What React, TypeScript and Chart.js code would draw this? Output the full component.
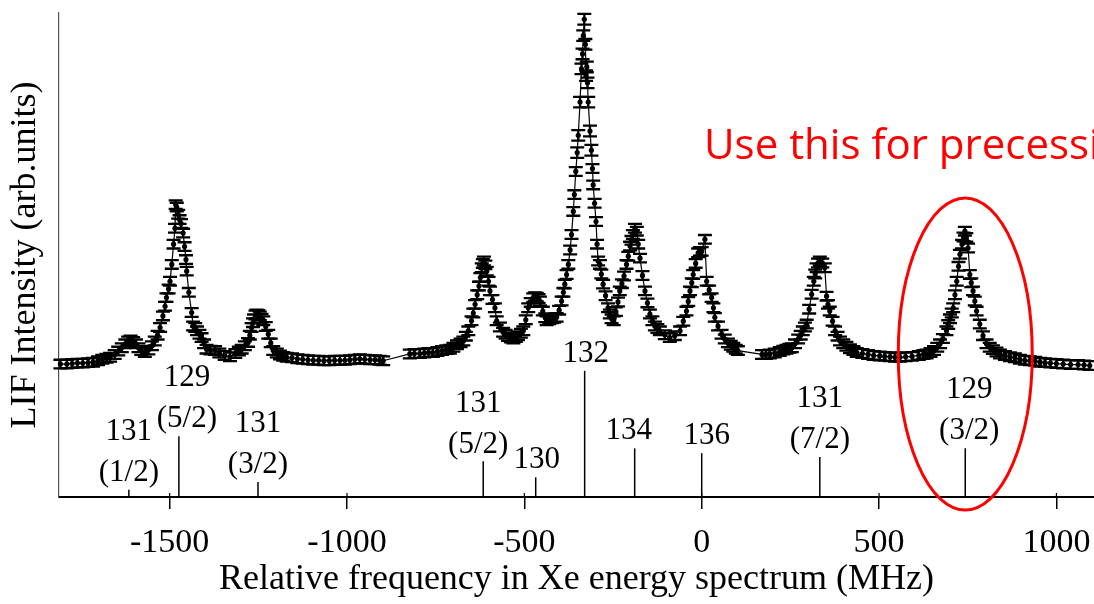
import React, { useEffect, useRef } from "react";
import { Chart, registerables } from "chart.js";

Chart.register(...registerables);

// Measured spectrum: relative frequency (MHz) and LIF intensity (arb. units)
const FREQ: number[] = [
  -1808, -1790, -1775, -1760, -1745, -1730, -1716, -1702, -1690, -1678, -1668, -1655, -1645, -1635, -1625, -1617, -1610, -1603, -1595, -1588,
  -1580, -1570, -1560, -1550, -1542, -1534, -1527, -1519, -1513, -1509, -1503, -1499, -1494, -1489, -1485, -1483, -1480, -1476, -1472, -1468,
  -1462, -1458, -1454, -1452, -1446, -1438, -1434, -1428, -1423, -1416, -1410, -1403, -1396, -1385, -1372, -1360, -1345, -1330, -1315, -1305,
  -1297, -1288, -1279, -1274, -1269, -1265, -1262, -1258, -1255, -1250, -1246, -1241, -1236, -1229, -1222, -1215, -1208, -1198, -1189, -1180,
  -1170, -1155, -1140, -1125, -1110, -1095, -1080, -1065, -1050, -1035, -1020, -1006, -992, -978, -964, -950, -935, -921, -908, -898,
  -823, -810, -795, -782, -770, -758, -745, -732, -720, -710, -700, -690, -680, -672, -665, -658, -649, -644, -639, -633,
  -628, -624, -620, -617, -614, -610, -606, -601, -597, -590, -583, -578, -569, -560, -553, -546, -538, -531, -524, -518,
  -510, -503, -496, -489, -482, -475, -470, -465, -460, -456, -448, -441, -437, -430, -422, -416, -409, -402, -395, -390,
  -386, -381, -376, -371, -367, -362, -359, -355, -351, -348, -343, -339, -336, -334, -331, -328, -326, -324, -322, -320,
  -315, -311, -308, -306, -302, -298, -295, -292, -287, -283, -278, -271, -264, -259, -254, -248, -242, -236, -231, -225,
  -219, -212, -207, -202, -198, -194, -188, -183, -179, -174, -167, -160, -153, -146, -139, -132, -125, -118, -104, -90,
  -76, -61, -52, -43, -38, -33, -28, -24, -17, -10, -5, 0, 9, 14, 21, 28, 33, 37, 46, 56,
  65, 74, 82, 89, 96, 102,
  170, 181, 192, 206, 220, 230, 239, 247, 254, 263, 272, 279, 285, 291, 296, 303, 310, 316, 320, 324,
  328, 333, 340, 347, 352, 356, 361, 369, 376, 383, 390, 399, 408, 418, 428, 437, 453, 469, 485, 502,
  516, 531, 545, 559, 575, 593, 612, 625, 634, 645, 655, 664, 672, 680, 690, 695, 700, 705, 709, 714,
  719, 724, 728, 734, 738, 742, 746, 751, 756, 760, 765, 770, 775, 784, 793, 803, 812, 821, 831, 841,
  855, 869, 883, 897, 911, 925, 940, 954, 968, 983, 1000, 1019, 1040, 1061, 1078, 1094,
];

const INTENSITY: number[] = [
  27.6, 27.6, 27.7, 27.8, 27.8, 27.9, 28.0, 28.3, 28.6, 28.8, 29.0, 29.6, 30.3, 31.0, 31.8, 32.4, 32.6, 32.3, 31.8, 31.0,
  30.4, 30.0, 30.5, 31.4, 32.4, 33.6, 35.2, 37.6, 39.6, 41.4, 43.2, 44.8, 48.3, 52.5, 55.8, 60.7, 60.2, 58.7, 57.6, 56.8,
  54.8, 52.0, 49.3, 46.9, 42.5, 38.3, 35.5, 35.2, 34.5, 33.8, 33.1, 31.8, 30.7, 30.5, 30.4, 29.9, 29.4, 29.1, 29.8, 30.3,
  30.7, 31.4, 32.1, 33.6, 35.2, 36.2, 37.0, 37.8, 38.0, 37.9, 37.6, 37.1, 36.6, 35.4, 33.8, 32.0, 30.4, 29.9, 29.5, 29.2,
  29.0, 28.9, 28.7, 28.6, 28.5, 28.4, 28.4, 28.3, 28.3, 28.4, 28.4, 28.4, 28.5, 28.6, 28.7, 28.6, 28.5, 28.5, 28.4, 28.3,
  29.7, 29.8, 29.8, 29.9, 30.0, 30.0, 30.2, 30.4, 30.6, 30.7, 31.1, 31.6, 32.0, 32.4, 33.4, 34.5, 36.6, 38.2, 40.0, 42.0,
  43.8, 45.6, 47.6, 48.5, 49.0, 48.2, 46.9, 44.8, 42.8, 41.0, 39.3, 36.6, 35.3, 34.2, 33.8, 33.3, 33.0, 32.8, 33.1, 33.5,
  34.0, 34.5, 36.8, 39.3, 40.4, 41.4, 41.6, 41.5, 41.2, 40.7, 38.6, 37.2, 36.6, 36.8, 37.0, 37.1, 37.3, 38.8, 40.7, 42.5,
  44.2, 46.2, 48.3, 51.3, 54.5, 59.3, 62.8, 67.6, 71.5, 75.1, 82.0, 88.9, 92.0, 95.8, 99.2, 94.0, 87.5, 89.3, 86.0, 82.0,
  76.0, 72.0, 68.2, 64.8, 61.0, 57.2, 52.5, 49.0, 48.3, 46.3, 44.2, 41.8, 39.3, 38.0, 37.0, 36.6, 38.5, 40.5, 42.8, 44.3,
  45.9, 48.3, 50.0, 52.1, 53.3, 54.5, 55.8, 55.2, 52.5, 49.6, 46.0, 42.8, 40.3, 38.0, 36.6, 35.5, 35.0, 34.5, 33.7, 33.1,
  33.5, 34.5, 36.5, 38.6, 40.6, 42.8, 44.5, 46.2, 48.5, 50.7, 51.0, 51.0, 53.5, 44.8, 43.0, 41.4, 39.3, 37.3, 35.5, 33.8,
  32.8, 32.0, 31.5, 31.1, 30.7, 30.4,
  29.6, 29.6, 29.7, 29.9, 30.2, 30.5, 30.7, 30.9, 31.0, 31.8, 32.8, 33.6, 34.5, 35.3, 35.9, 39.0, 42.1, 44.8, 46.3, 47.6,
  48.6, 49.0, 48.6, 47.6, 41.7, 40.0, 38.6, 36.5, 34.5, 33.4, 32.4, 31.8, 31.3, 30.8, 30.4, 30.0, 29.8, 29.6, 29.4, 29.3,
  29.2, 29.1, 29.0, 29.0, 29.1, 29.2, 29.4, 29.6, 29.7, 30.0, 30.4, 31.1, 31.8, 32.9, 34.5, 35.8, 37.0, 38.2, 39.3, 42.0,
  44.8, 47.9, 50.4, 52.5, 54.0, 55.2, 53.9, 51.7, 46.2, 44.5, 42.8, 40.7, 38.6, 35.9, 33.5, 31.8, 31.1, 30.6, 30.1, 29.7,
  29.4, 29.1, 28.9, 28.6, 28.4, 28.3, 28.2, 28.0, 27.9, 27.8, 27.7, 27.6, 27.5, 27.5, 27.4, 27.3,
];

// Half-height of each error bar (arb. units): larger on the tall peaks
const ERROR: number[] = INTENSITY.map((v) => (v > 70 ? 1.1 : 0.9));

// Isotope / hyperfine stick spectrum
const STICK_FREQ: number[] = [-1615, -1474, -1251, -616, -468, -330, -189, 0, 333, 743];
const STICK_HEIGHT: number[] = [1.5, 12.6, 3.1, 7.4, 4.1, 26.2, 10.1, 9.1, 8.3, 10.1];
const STICK_LABELS: string[][] = [
  ["131", "(1/2)"],
  ["129", "(5/2)"],
  ["131", "(3/2)"],
  ["131", "(5/2)"],
  ["130"],
  ["132"],
  ["134"],
  ["136"],
  ["131", "(7/2)"],
  ["129", "(3/2)"],
];
const LABEL_DX: number[] = [0, 8, 0, -5, 1, 1, -6, 5, 0, 4];

const X_TICKS: number[] = [-1500, -1000, -500, 0, 500, 1000];
const X_MIN = -1812;
const X_MAX = 1106;

const X_TITLE = "Relative frequency in Xe energy spectrum (MHz)";
const Y_TITLE = "LIF Intensity (arb.units)";
const NOTE = "Use this for precession";
const HIGHLIGHT_FREQ = 743;

const SERIF = "'Liberation Serif', 'Times New Roman', serif";

const overlayPlugin = {
  id: "overlay",
  afterDatasetsDraw(chart: any) {
    const ctx = chart.ctx;
    const xs = chart.scales.x;
    const ys = chart.scales.y;
    const area = chart.chartArea;
    ctx.save();
    // error bars
    ctx.strokeStyle = "#000";
    ctx.lineWidth = 2.3;
    for (let i = 0; i < FREQ.length; i++) {
      const px = xs.getPixelForValue(FREQ[i]);
      const y1 = ys.getPixelForValue(INTENSITY[i] - ERROR[i]);
      const y2 = ys.getPixelForValue(INTENSITY[i] + ERROR[i]);
      ctx.beginPath();
      ctx.moveTo(px, y1);
      ctx.lineTo(px, y2);
      ctx.moveTo(px - 7, y1);
      ctx.lineTo(px + 7, y1);
      ctx.moveTo(px - 7, y2);
      ctx.lineTo(px + 7, y2);
      ctx.stroke();
    }
    // sticks
    ctx.lineWidth = 1.5;
    const base = ys.getPixelForValue(0);
    ctx.font = `31px ${SERIF}`;
    ctx.fillStyle = "#000";
    ctx.textAlign = "center";
    ctx.textBaseline = "middle";
    for (let i = 0; i < STICK_FREQ.length; i++) {
      const px = xs.getPixelForValue(STICK_FREQ[i]);
      const top = ys.getPixelForValue(STICK_HEIGHT[i]);
      ctx.beginPath();
      ctx.moveTo(px, base);
      ctx.lineTo(px, top);
      ctx.stroke();
      const lines = STICK_LABELS[i];
      for (let j = 0; j < lines.length; j++) {
        const ly = top - 17 - (lines.length - 1 - j) * 41;
        ctx.fillText(lines[j], px + LABEL_DX[i], ly);
      }
    }
    // small inner ticks on the axis
    ctx.lineWidth = 1.2;
    for (const t of X_TICKS) {
      const px = xs.getPixelForValue(t);
      ctx.beginPath();
      ctx.moveTo(px, area.bottom);
      ctx.lineTo(px, area.bottom - 4);
      ctx.stroke();
    }
    ctx.restore();
  },
  afterDraw(chart: any) {
    const ctx = chart.ctx;
    const xs = chart.scales.x;
    ctx.save();
    // highlight ellipse
    const cx = xs.getPixelForValue(HIGHLIGHT_FREQ);
    ctx.strokeStyle = "#ff0000";
    ctx.lineWidth = 3;
    ctx.beginPath();
    ctx.ellipse(cx, 354, 67, 156, 0, 0, Math.PI * 2);
    ctx.stroke();
    // note
    ctx.fillStyle = "#ff0000";
    ctx.font = "42px 'Open Sans', Lato, sans-serif";
    ctx.textAlign = "left";
    ctx.textBaseline = "alphabetic";
    ctx.fillText(NOTE, 704, 159);
    ctx.restore();
  },
};

export default function App() {
  const ref = useRef<HTMLCanvasElement | null>(null);
  useEffect(() => {
    if (!ref.current) return;
    const chart = new Chart(ref.current, {
      type: "scatter",
      data: {
        datasets: [
          {
            data: FREQ.map((f, i) => ({ x: f, y: INTENSITY[i] })),
            showLine: true,
            borderColor: "#000",
            borderWidth: 1.2,
            pointRadius: 2.6,
            pointBackgroundColor: "#000",
            pointBorderWidth: 0,
            tension: 0,
            clip: false as any,
          },
        ],
      },
      options: {
        animation: false,
        responsive: true,
        maintainAspectRatio: false,
        devicePixelRatio: 1,
        layout: { autoPadding: false, padding: { top: 13, right: 0, left: 0, bottom: 0 } },
        plugins: { legend: { display: false }, tooltip: { enabled: false } },
        scales: {
          x: {
            type: "linear",
            min: X_MIN,
            max: X_MAX,
            afterBuildTicks: (s: any) => {
              s.ticks = X_TICKS.map((v) => ({ value: v }));
            },
            afterFit: (s: any) => {
              s.height = 107;
              s.paddingLeft = 0;
              s.paddingRight = 0;
            },
            ticks: {
              color: "#000",
              font: { family: SERIF, size: 34 },
              padding: 14,
              maxRotation: 0,
              callback: (v: any) => String(v),
            },
            grid: { drawOnChartArea: false, drawTicks: true, tickLength: 12, color: "#000", lineWidth: 1.5 },
            border: { display: true, color: "#000", width: 2 },
            title: {
              display: true,
              text: X_TITLE,
              color: "#000",
              font: { family: SERIF, size: 36 },
              padding: { top: 0, bottom: 3 },
            },
          },
          y: {
            type: "linear",
            min: 0,
            max: 100.5,
            afterFit: (s: any) => {
              s.width = 59;
              s.paddingTop = 0;
              s.paddingBottom = 0;
            },
            ticks: { display: false },
            grid: { drawOnChartArea: false, drawTicks: false },
            border: { display: true, color: "#555", width: 1.2 },
            title: {
              display: true,
              text: Y_TITLE,
              color: "#000",
              font: { family: SERIF, size: 36 },
              padding: { top: 4, bottom: 0 },
            },
          },
        },
      },
      plugins: [overlayPlugin],
    });
    return () => chart.destroy();
  }, []);
  return (
    <div style={{ position: "fixed", left: 0, top: 0, width: 1094, height: 604, background: "#fff" }}>
      <canvas ref={ref} />
    </div>
  );
}
